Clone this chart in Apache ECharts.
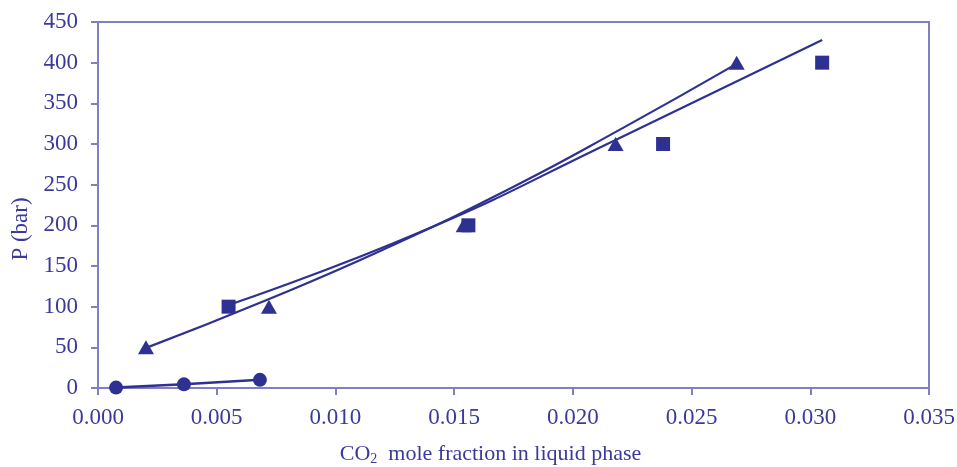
<!DOCTYPE html>
<html>
<head>
<meta charset="utf-8">
<script src="https://cdn.jsdelivr.net/npm/echarts@6/dist/echarts.min.js"></script>
<style>
  html, body { margin: 0; padding: 0; background: #fff; }
  #chart { width: 957px; height: 467px; }
</style>
</head>
<body>
<div id="chart"></div>
<script>
// measured points [x, P]
const trianglePoints = [[0.00202, 50], [0.0072, 100], [0.0154, 200], [0.0218, 300], [0.0269, 400]];
const squarePoints = [[0.0055, 100], [0.0156, 200], [0.0238, 300], [0.0305, 400]];
const circlePoints = [[0.00076, 0.5], [0.00362, 4.5], [0.00682, 10]];

// fitted curves
const triangleFit = [[0.002, 49], [0.007, 107], [0.012, 170], [0.0174, 246], [0.022, 318], [0.0268, 397]];
const squareFit = [[0.0055, 102], [0.0136, 192], [0.0218, 305], [0.0305, 428]];

const xTicks = { min: 0, max: 0.035, interval: 0.005 };
const yTicks = { min: 0, max: 450, interval: 50 };

const ink = '#2e3192';
const axisCol = '#7f7fc2';
const textCol = '#3a3a9a';
const font = 'Liberation Serif';

const chart = echarts.init(document.getElementById('chart'));

const option = {
  animation: false,
  grid: {
    left: 98, right: 28, top: 22, bottom: 79,
    outerBoundsMode: 'none',
    containLabel: false,
    show: true,
    borderColor: axisCol,
    borderWidth: 2
  },
  xAxis: {
    type: 'value',
    min: xTicks.min, max: xTicks.max, interval: xTicks.interval,
    axisLine: { lineStyle: { color: axisCol, width: 2 } },
    axisTick: { show: true, length: 7, lineStyle: { color: axisCol, width: 2 } },
    splitLine: { show: false },
    axisLabel: {
      color: textCol, fontFamily: font, fontSize: 23, margin: 18,
      formatter: v => v.toFixed(3)
    },
    name: '{n|CO}{s|2}{n|  mole fraction in liquid phase}',
    nameLocation: 'middle',
    nameGap: 54,
    nameTextStyle: {
      padding: [0, 46, 0, 0],
      rich: {
        n: { color: textCol, fontFamily: font, fontSize: 22 },
        s: { color: textCol, fontFamily: font, fontSize: 14, padding: [10, 0, 0, 0] }
      }
    }
  },
  yAxis: {
    type: 'value',
    min: yTicks.min, max: yTicks.max, interval: yTicks.interval,
    axisLine: { show: true, lineStyle: { color: axisCol, width: 2 } },
    axisTick: { show: true, length: 7, lineStyle: { color: axisCol, width: 2 } },
    splitLine: { show: false },
    axisLabel: { color: textCol, fontFamily: font, fontSize: 23, margin: 20 },
    name: 'P (bar)',
    nameLocation: 'middle',
    nameGap: 66,
    nameTextStyle: { color: textCol, fontFamily: font, fontSize: 23, padding: [0, 0, 0, -48] }
  },
  series: [
    {
      type: 'line', data: triangleFit, smooth: true, symbol: 'none',
      lineStyle: { color: ink, width: 2.2 }, z: 2
    },
    {
      type: 'line', data: squareFit, smooth: true, symbol: 'none',
      lineStyle: { color: ink, width: 2.2 }, z: 2
    },
    {
      type: 'line', data: circlePoints, symbol: 'circle', symbolSize: 14,
      itemStyle: { color: ink, opacity: 1 }, lineStyle: { color: ink, width: 2.5 }, z: 3
    },
    {
      type: 'scatter', data: trianglePoints, symbol: 'triangle', symbolSize: [16, 14],
      itemStyle: { color: ink, opacity: 1 }, z: 3
    },
    {
      type: 'scatter', data: squarePoints, symbol: 'rect', symbolSize: 14,
      itemStyle: { color: ink, opacity: 1 }, z: 3
    }
  ]
};

chart.setOption(option);
</script>
</body>
</html>
